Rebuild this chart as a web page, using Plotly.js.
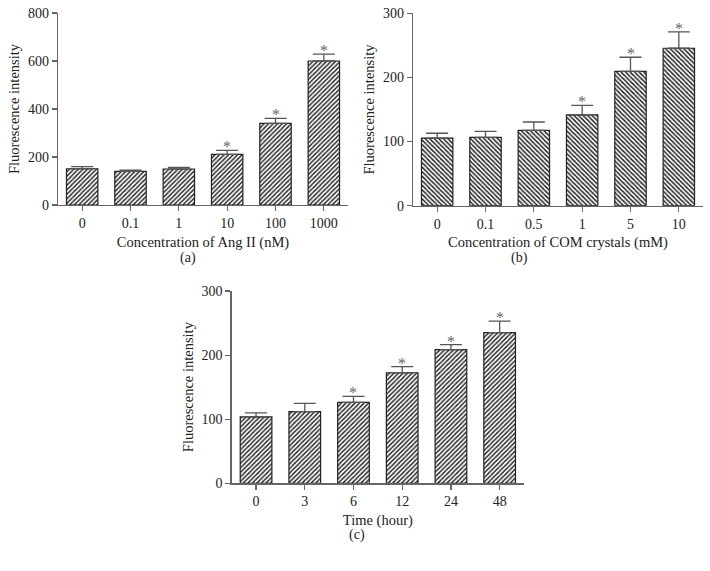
<!DOCTYPE html>
<html>
<head>
<meta charset="utf-8">
<script src="https://cdn.plot.ly/plotly-3.0.1.min.js"></script>
<style>html,body{margin:0;padding:0;background:#fff;}#chart{width:710px;height:571px;}</style>
</head>
<body>
<div id="chart"></div>
<script>
// Panel (a)
const catsA = ["0", "0.1", "1", "10", "100", "1000"];
const valsA = [151, 140, 150, 211, 340, 600];
const errA  = [9, 5, 7, 17, 21, 29];
const starA = [false, false, false, true, true, true];
// Panel (b)
const catsB = ["0", "0.1", "0.5", "1", "5", "10"];
const valsB = [105.5, 106.5, 117.5, 141.5, 209.5, 245.5];
const errB  = [7.5, 9.5, 13, 15, 22, 25.5];
const starB = [false, false, false, true, true, true];
// Panel (c)
const catsC = ["0", "3", "6", "12", "24", "48"];
const valsC = [103.5, 111.7, 126.4, 172.5, 208.4, 235];
const errC  = [6.5, 13, 9.3, 9.4, 7.8, 18];
const starC = [false, false, true, true, true, true];

const titleA = "Concentration of Ang II (nM)";
const titleB = "Concentration of COM crystals (mM)";
const titleC = "Time (hour)";
const yTitle = "Fluorescence intensity";

const FONT = "Liberation Serif, Times New Roman, serif";
const AXC = "#666";

function barTrace(cats, vals, errs, shape, xa, ya) {
  return {
    type: "bar", x: cats, y: vals, xaxis: xa, yaxis: ya, width: 0.65,
    marker: {color: "#fff", line: {color: "#222", width: 1.2},
      pattern: {shape: shape, fgcolor: "#222", bgcolor: "#fff", size: 3.2, solidity: 0.45}},
    error_y: {type: "data", symmetric: false, array: errs, arrayminus: errs.map(() => 0),
      color: "#555", thickness: 1.3, width: 11},
    showlegend: false, hoverinfo: "skip"
  };
}

function stars(cats, vals, errs, flags, xref, yref) {
  const out = [];
  cats.forEach((c, i) => {
    if (flags[i]) out.push({x: i, y: vals[i] + errs[i], xref: xref, yref: yref, text: "*",
      showarrow: false, yanchor: "bottom", yshift: -7,
      font: {family: FONT, size: 16, color: "#666"}});
  });
  return out;
}

const xBase = {type: "category", range: [-0.5, 5.5], showline: true, linecolor: AXC, linewidth: 1.3,
  ticks: "outside", ticklen: 5, tickcolor: AXC, tickwidth: 1.2, showgrid: false, zeroline: false,
  tickfont: {family: FONT, size: 14, color: "#222"}, fixedrange: true};
const yBase = {showline: true, linecolor: AXC, linewidth: 1.3, ticks: "outside", ticklen: 5,
  tickcolor: AXC, tickwidth: 1.2, showgrid: false, zeroline: false,
  tickfont: {family: FONT, size: 14, color: "#222"}, fixedrange: true};

function xa(domain, anchor, title) {
  return Object.assign({}, xBase, {domain: domain, anchor: anchor,
    title: {text: title, font: {family: FONT, size: 14.5, color: "#222"}, standoff: 6}});
}
function ya(domain, anchor, range, dtick) {
  return Object.assign({}, yBase, {domain: domain, anchor: anchor, range: range, dtick: dtick,
    title: {text: yTitle, font: {family: FONT, size: 14.5, color: "#222"}, standoff: 4}});
}

const data = [
  barTrace(catsA, valsA, errA, "/", "x", "y"),
  barTrace(catsB, valsB, errB, "\\", "x2", "y2"),
  barTrace(catsC, valsC, errC, "/", "x3", "y3")
];

const layout = {
  width: 710, height: 571, margin: {l: 0, r: 0, t: 0, b: 0},
  paper_bgcolor: "#fff", plot_bgcolor: "#fff",
  font: {family: FONT, color: "#222"},
  xaxis: xa([58/710, 348/710], "y", titleA),
  yaxis: ya([1-205/571, 1-13/571], "x", [0, 800], 200),
  xaxis2: xa([413/710, 703/710], "y2", titleB),
  yaxis2: ya([1-205.7/571, 1-13.3/571], "x2", [0, 300], 100),
  xaxis3: xa([231.7/710, 524/710], "y3", titleC),
  yaxis3: ya([1-483.3/571, 1-291/571], "x3", [0, 300], 100),
  annotations: [].concat(
    stars(catsA, valsA, errA, starA, "x", "y"),
    stars(catsB, valsB, errB, starB, "x2", "y2"),
    stars(catsC, valsC, errC, starC, "x3", "y3"),
    [
      {text: "(a)", x: 178/710, y: 1-258/571, xref: "paper", yref: "paper", showarrow: false, font: {family: FONT, size: 14, color: "#222"}},
      {text: "(b)", x: 530/710, y: 1-258/571, xref: "paper", yref: "paper", showarrow: false, font: {family: FONT, size: 14, color: "#222"}},
      {text: "(c)", x: 357/710, y: 1-545/571, xref: "paper", yref: "paper", showarrow: false, font: {family: FONT, size: 14, color: "#222"}}
    ]
  )
};

Plotly.newPlot("chart", data, layout, {displayModeBar: false, staticPlot: true});
</script>
</body>
</html>
